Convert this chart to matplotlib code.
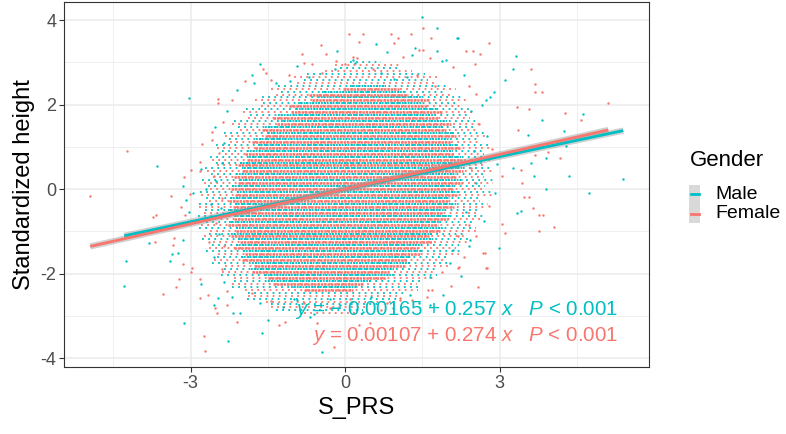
import numpy as np
import matplotlib
matplotlib.use("Agg")
import matplotlib.pyplot as plt
from matplotlib.patches import Rectangle
from matplotlib.lines import Line2D

plt.rcParams['font.family'] = ['Liberation Sans', 'DejaVu Sans']
plt.rcParams['mathtext.fontset'] = 'custom'
plt.rcParams['mathtext.it'] = 'Liberation Sans:italic'
plt.rcParams['mathtext.rm'] = 'Liberation Sans'

MALE_COL = '#00BFC4'
FEMALE_COL = '#F8766D'

# dense core: rows of points at discrete height levels, with x extent of each row
female_levels = [-2.38, -2.24, -2.10, -1.96, -1.82, -1.68, -1.54, -1.40, -1.26, -1.12, -0.98, -0.84,
                 -0.70, -0.56, -0.42, -0.28, -0.14, 0.00, 0.14, 0.28, 0.42, 0.56, 0.70, 0.84,
                 0.98, 1.12, 1.26, 1.40, 1.54, 1.68, 1.82, 1.96, 2.10, 2.24, 2.38]
female_left = [-0.80, -1.40, -1.50, -1.80, -1.78, -2.00, -1.95, -2.15, -2.05, -2.22, -2.12, -2.28,
               -2.16, -2.30, -2.18, -2.26, -2.14, -2.22, -2.08, -2.16, -2.00, -2.08, -1.90, -1.95,
               -1.75, -1.80, -1.55, -1.62, -1.32, -1.40, -1.05, -1.10, -0.65, -0.70, -0.05]
female_right = [0.15, 0.35, 0.80, 0.85, 1.18, 1.20, 1.45, 1.42, 1.68, 1.62, 1.85, 1.80,
                2.00, 1.90, 2.12, 2.02, 2.20, 2.10, 2.26, 2.15, 2.28, 2.16, 2.26, 2.12,
                2.24, 2.05, 2.16, 1.95, 2.05, 1.80, 1.88, 1.58, 1.62, 1.22, 1.05]

male_levels = [-2.31, -2.17, -2.03, -1.89, -1.75, -1.61, -1.47, -1.33, -1.19, -1.05, -0.91, -0.77,
               -0.63, -0.49, -0.35, -0.21, -0.07, 0.07, 0.21, 0.35, 0.49, 0.63, 0.77, 0.91,
               1.05, 1.19, 1.33, 1.47, 1.61, 1.75, 1.89, 2.03, 2.17, 2.31, 2.45]
male_left = [-1.05, -1.50, -1.55, -1.82, -1.80, -2.02, -1.98, -2.12, -2.08, -2.22, -2.12, -2.26,
             -2.15, -2.28, -2.14, -2.24, -2.10, -2.20, -2.04, -2.12, -1.96, -2.04, -1.86, -1.90,
             -1.70, -1.74, -1.50, -1.55, -1.25, -1.30, -0.95, -0.92, -0.52, -0.45, 0.10]
male_right = [0.25, 0.50, 0.92, 0.95, 1.25, 1.28, 1.50, 1.50, 1.72, 1.68, 1.90, 1.84,
              2.04, 1.95, 2.16, 2.04, 2.22, 2.12, 2.28, 2.15, 2.26, 2.14, 2.24, 2.10,
              2.20, 2.02, 2.12, 1.90, 1.98, 1.72, 1.80, 1.50, 1.50, 1.15, 0.80]

# thinner rows around the core (lower density)
female_outer_levels = [-2.94, -2.80, -2.66, -2.52, -2.38, -2.24, -2.10, -1.96, -1.82, -1.68, -1.54,
                       -1.40, -1.26, -1.12, -0.98, -0.84, -0.70, -0.56, -0.42, -0.28, -0.14, 0.00,
                       0.14, 0.28, 0.42, 0.56, 0.70, 0.84, 0.98, 1.12, 1.26, 1.40, 1.54, 1.68,
                       1.82, 1.96, 2.10, 2.24, 2.38, 2.52, 2.66, 2.80, 2.94]
female_outer_left = [-0.85, -1.50, -1.60, -1.95, -2.00, -2.25, -2.22, -2.45, -2.40, -2.60, -2.52,
                     -2.70, -2.62, -2.80, -2.68, -2.85, -2.72, -2.80, -2.90, -2.70, -2.85, -2.68,
                     -2.80, -2.62, -2.75, -2.55, -2.65, -2.40, -2.55, -2.30, -2.40, -2.10, -2.25,
                     -1.95, -2.05, -1.70, -1.80, -1.40, -1.50, -1.00, -1.05, -0.45, -0.25]
female_outer_right = [0.20, 0.45, 0.95, 1.00, 1.42, 1.40, 1.72, 1.70, 2.00, 1.95, 2.22,
                      2.15, 2.40, 2.30, 2.55, 2.42, 2.65, 2.55, 2.75, 2.62, 2.85, 2.70,
                      2.88, 2.70, 2.90, 2.72, 2.85, 2.70, 2.82, 2.62, 2.78, 2.55, 2.68,
                      2.42, 2.55, 2.25, 2.40, 2.05, 2.15, 1.75, 1.80, 1.30, 1.10]

male_outer_levels = [-2.87, -2.73, -2.59, -2.45, -2.31, -2.17, -2.03, -1.89, -1.75, -1.61, -1.47,
                     -1.33, -1.19, -1.05, -0.91, -0.77, -0.63, -0.49, -0.35, -0.21, -0.07, 0.07,
                     0.21, 0.35, 0.49, 0.63, 0.77, 0.91, 1.05, 1.19, 1.33, 1.47, 1.61, 1.75,
                     1.89, 2.03, 2.17, 2.31, 2.45, 2.59, 2.73, 2.87, 3.01]
male_outer_left = [-1.35, -1.45, -1.90, -1.88, -2.20, -2.15, -2.42, -2.35, -2.58, -2.48, -2.70,
                   -2.58, -2.78, -2.65, -2.84, -2.70, -2.86, -2.72, -2.84, -2.70, -2.82, -2.66,
                   -2.78, -2.60, -2.72, -2.50, -2.62, -2.40, -2.50, -2.25, -2.35, -2.08, -2.15,
                   -1.85, -1.92, -1.60, -1.62, -1.25, -1.30, -0.80, -0.75, -0.10, 0.10]
male_outer_right = [0.35, 0.65, 1.05, 1.15, 1.45, 1.50, 1.78, 1.80, 2.05, 2.02, 2.25,
                    2.22, 2.42, 2.36, 2.55, 2.48, 2.68, 2.58, 2.78, 2.66, 2.86, 2.72,
                    2.90, 2.74, 2.88, 2.72, 2.86, 2.66, 2.80, 2.58, 2.72, 2.48, 2.60,
                    2.36, 2.48, 2.18, 2.28, 1.95, 2.02, 1.60, 1.55, 1.05, 0.70]

# scattered points outside the dense core
male_x = [-3.03, -3.65, -4.25, -4.29, -3.13, -3.81, -3.40, -3.36, -3.24, -3.15, -3.15, -2.95, -3.09,
          -3.03, -2.80, -2.54, -2.52, -2.80, -2.70,
          2.17, 3.32, 3.26, 3.11, 2.89, 2.74, 2.82, 4.62, 3.83, 4.25, 3.55, 4.29, 3.90, 3.61, 4.35,
          5.40, 4.74, 3.90, 3.67, 3.26, 3.42, 3.34, 2.99, 2.43, 2.10,
          1.50, 1.79, 0.60, 1.79, 1.36, -0.16, 0.82, -1.65, -0.93, -1.77, -1.34, -1.07, 0.16, 0.19,
          1.30, 1.88, 2.19,
          -2.27, -1.61, -0.45, -1.50, -0.68, -2.17, -2.04, -2.47, -1.65, -0.93, -0.10, 0.93, 1.65,
          1.44, 1.65, 2.04,
          -2.40, -2.60, -2.45, -2.55, -2.35, -2.20, -2.30, -2.10, -1.80, 2.45, 2.75, 2.95, 2.90,
          2.70, 2.40, 2.25, 1.90, 2.30, 1.95, 2.65,
          -2.35, -2.50, -2.42, 2.50, 2.55, 2.35, -0.60, 0.35, -0.20, 0.70, 1.20, -1.20, 0.50,
          -0.30, 0.95, -0.70, -1.00, 1.25]
male_y = [2.16, 0.55, -1.71, -2.30, -3.18, -1.28, -1.71, -1.54, -1.52, -1.21, 0.07, -0.09, -0.26,
          -0.55, -2.25, -2.75, 1.47, 0.47, 0.00,
          3.58, 3.15, 2.84, 2.58, 2.30, 2.11, 2.18, 1.78, 1.64, 1.37, 1.28, 1.02, 0.73, 0.62, 0.31,
          0.24, -0.09, 0.00, 0.31, 0.50, -0.52, -0.57, -1.40, -1.21, -1.45,
          4.08, 3.82, 3.44, 3.27, 3.34, 3.27, 3.25, 2.96, 2.91, 2.51, 2.51, 2.56, 3.06, 2.99,
          3.18, 3.03, 3.58,
          -3.60, -3.41, -3.86, -3.10, -3.03, -2.94, -2.94, -2.58, -2.70, -2.63, -2.75, -2.82, -2.75,
          -2.70, -2.09, -1.75,
          0.62, -0.35, -1.05, -1.60, -2.20, -2.55, 1.85, 2.35, 2.70, 1.85, 1.25, 0.60, -0.10,
          -0.75, -1.35, -2.05, -2.50, 2.70, 3.05, 2.00,
          1.10, 0.20, -0.45, 0.90, 0.15, -0.55, -2.95, -2.90, 2.85, 2.75, 2.65, -2.80, -2.55,
          -2.60, 2.60, 2.65, -2.60, -2.50]

female_x = [-2.47, -2.47, -4.23, -4.95, -3.53, -2.74, -2.72, -3.69, -3.73, -3.67, -3.38, -3.22,
            -3.28, -3.15, -3.13, -2.99, -3.01, -3.18, -3.11, -3.32, -3.34, -2.97, -2.99, -2.82,
            -2.82, -2.66, -2.49, -2.78, -2.58, -2.58, -2.82, -2.82,
            2.80, 2.35, 2.49, 2.62, 2.52, 3.61, 3.69, 3.69, 3.83, 5.11, 3.34, 3.57, 4.27, 4.58,
            3.36, 3.94, 4.17, 3.69, 3.42, 3.44, 3.57, 3.48, 3.65, 3.77, 3.84, 4.06, 3.77, 3.05,
            3.11, 2.68, 2.72, 2.19, 2.74, 2.58,
            1.51, 0.08, 0.35, 0.89, 1.28, 0.27, -0.47, 0.95, 1.03, 1.44, 1.51, -0.37, -0.83,
            -1.53, -1.44, -0.80, -0.64, 0.16, 0.23, -0.17, 0.00, 1.13, 1.65, 1.67,
            -2.10, -1.28, -1.17, -0.21, 0.27, 0.49, -0.54, -2.29, -2.52, -0.87, -0.29, 0.82, 1.07,
            1.59, 1.69, 1.61, 1.07, 1.30, 1.88, 2.76, 2.21,
            -2.45, -2.55, -2.50, -2.65, -2.40, -2.30, -2.38, -2.20, -1.95, -1.60, 2.60, 2.85, 3.05,
            2.80, 2.55, 2.30, 2.05, 2.40, 2.10, 2.55,
            -2.40, 2.45, 2.40, -0.45, 0.55, 1.40, -1.10, -0.80, 0.10, 0.70, -1.45, 1.75, -1.80,
            2.20, -2.35]
female_y = [2.13, 2.04, 0.90, -0.17, -2.49, -3.48, -3.84, -1.26, -0.66, -0.62, -0.17, -2.13,
            -2.32, -1.78, 0.28, 0.45, -0.12, -0.43, -0.62, -1.16, -1.33, -1.87, -1.97, -2.13,
            -2.58, -2.51, -2.94, 1.07, 1.16, 1.35, 0.64, 0.43,
            3.46, 3.27, 3.27, 3.20, 2.96, 2.84, 2.49, 2.30, 2.30, 2.04, 1.94, 1.90, 1.80, 1.64,
            1.40, 0.88, 0.73, 0.81, 0.45, 0.14, -0.19, -0.19, -0.45, -0.62, -0.62, -0.90, -1.00, -0.83,
            -1.04, -1.52, -1.52, -1.87, -1.87, -2.32,
            3.82, 3.67, 3.67, 3.67, 3.67, 3.48, 3.41, 3.46, 3.58, 3.29, 3.29, 3.20, 3.20,
            2.75, 2.58, 2.99, 2.96, 3.13, 3.10, 3.03, 2.96, 3.13, 3.10, 3.58,
            -3.15, -3.22, -3.15, -3.74, -3.22, -3.18, -3.18, -2.75, -2.82, -2.87, -2.82, -2.70, -2.58,
            -2.56, -2.39, -2.39, -2.63, -2.63, -1.97, -1.87, -1.85,
            0.85, 0.30, -0.80, -1.25, -1.90, -2.40, 1.60, 2.10, 2.55, 2.85, 1.55, 0.95, 0.30,
            -0.40, -1.10, -1.60, -2.30, 2.45, 2.90, 2.25,
            -0.20, 0.50, -0.85, 2.75, 2.85, 2.70, 2.70, -2.70, -2.60, -2.85, -2.65, 2.45, -2.45,
            -1.10, -1.35]

# fitted lines (from the annotations)
male_fit = (-0.00165, 0.257)
female_fit = (0.00107, 0.274)

fig = plt.figure(figsize=(7.86, 4.34), dpi=100)
ax = fig.add_axes([64 / 786, 67 / 434, 585 / 786, 365 / 434])

ax.set_xlim(-5.46, 5.90)
ax.set_ylim(-4.21, 4.43)
ax.set_facecolor('white')
ax.set_xticks([-3, 0, 3])
ax.set_xticklabels(['-3', '0', '3'])
ax.set_yticks([-4, -2, 0, 2, 4])
ax.set_yticklabels(['-4', '-2', '0', '2', '4'])
ax.set_xticks([-4.5, -1.5, 1.5, 4.5], minor=True)
ax.set_yticks([-3, -1, 1, 3], minor=True)
ax.grid(True, which='major', color='#EBEBEB', linewidth=1.1, zorder=0)
ax.grid(True, which='minor', color='#EBEBEB', linewidth=0.55, zorder=0)
ax.set_axisbelow(True)
ax.tick_params(which='major', length=3.5, width=0.8, color='#333333',
               labelsize=13, labelcolor='#4D4D4D', pad=2)
ax.tick_params(which='minor', length=0)
for sp in ax.spines.values():
    sp.set_color('#333333')
    sp.set_linewidth(0.8)

ax.hlines(male_outer_levels, male_outer_left, male_outer_right, colors=MALE_COL, linewidth=1.3,
          linestyles=(0, (1.0, 2.4)), zorder=2)
ax.hlines(female_outer_levels, female_outer_left, female_outer_right, colors=FEMALE_COL,
          linewidth=1.3, linestyles=(1.7, (1.0, 2.4)), zorder=2)
ax.hlines(male_levels, male_left, male_right, colors=MALE_COL, linewidth=1.3,
          linestyles=(0, (1.0, 0.6)), zorder=2)
ax.scatter(male_x, male_y, s=3, color=MALE_COL, linewidths=0, zorder=2)
ax.hlines(female_levels, female_left, female_right, colors=FEMALE_COL, linewidth=1.8,
          linestyles=(0, (1.0, 0.35)), zorder=3)
ax.scatter(female_x, female_y, s=3, color=FEMALE_COL, linewidths=0, zorder=3)

for xs, fit, col in [(male_x, male_fit, MALE_COL), (female_x, female_fit, FEMALE_COL)]:
    xx = np.array([min(xs), max(xs)])
    yy = fit[0] + fit[1] * xx
    ax.plot(xx, yy, color='#999999', linewidth=4.5, alpha=0.45, solid_capstyle='butt', zorder=4)
    ax.plot(xx, yy, color=col, linewidth=2.0, solid_capstyle='butt', zorder=5)

ax.text(5.30, -2.87, r"$y$ = $-$ 0.00165 + 0.257 $x$   $P$ < 0.001", color=MALE_COL,
        fontsize=14.8, ha='right', va='center', zorder=6)
ax.text(5.30, -3.48, r"$y$ = 0.00107 + 0.274 $x$   $P$ < 0.001", color=FEMALE_COL,
        fontsize=14.8, ha='right', va='center', zorder=6)

ax.set_xlabel('S_PRS', fontsize=17, labelpad=4)
ax.set_ylabel('Standardized height', fontsize=17, labelpad=4)

# legend
fig.text(690 / 786, 1 - 160 / 434, 'Gender', fontsize=16, ha='left', va='center')
labels = ['Male', 'Female']
cols = [MALE_COL, FEMALE_COL]
for i, (lab, col) in enumerate(zip(labels, cols)):
    top = 185 + i * 19
    fig.patches.append(Rectangle((689 / 786, 1 - (top + 19) / 434), 11 / 786, 19 / 434,
                                 transform=fig.transFigure, facecolor='#D9D9D9',
                                 edgecolor='none'))
    yc = 1 - (top + 9.5) / 434
    fig.lines.append(Line2D([690.5 / 786, 698.5 / 786], [yc, yc], transform=fig.transFigure,
                            color=col, linewidth=2.0))
    fig.text(715 / 786, yc, lab, fontsize=14, ha='left', va='center')

fig.savefig('out.png', dpi=100)
